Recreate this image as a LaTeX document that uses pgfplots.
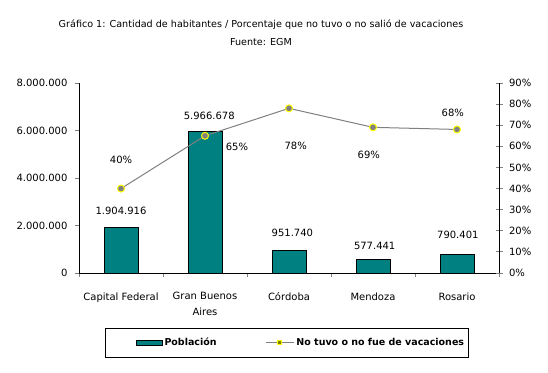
\documentclass[border=0pt]{standalone}
\usepackage{fontspec}
\setmainfont{DejaVu Sans}
\usepackage{pgfplots}
\pgfplotsset{compat=1.18}
\definecolor{barteal}{RGB}{0,128,128}
\definecolor{lgray}{RGB}{128,128,128}
\definecolor{myyellow}{RGB}{255,255,0}
\definecolor{mkolive}{RGB}{128,128,0}
\begin{document}
\begin{tikzpicture}[font=\fontsize{10}{12}\selectfont]
\useasboundingbox (0,0) rectangle (548pt,-372pt);
\node[font=\fontsize{9.6}{12}\selectfont] at (261pt,-25pt) {Gráfico 1: Cantidad de habitantes / Porcentaje que no tuvo o no salió de vacaciones};
\node[font=\fontsize{9.6}{12}\selectfont] at (261pt,-42pt) {Fuente: EGM};
\begin{axis}[
  at={(79pt,-273pt)}, anchor=south west,
  scale only axis, width=420pt, height=190pt,
  clip=false,
  xmin=-0.5, xmax=4.5, ymin=0, ymax=8000000,
  axis x line*=bottom, axis y line*=left,
  axis line style={line width=0.8pt},
  xtick={0,1,2,3,4},
  xticklabels={Capital Federal, Gran Buenos\\Aires, Córdoba, Mendoza, Rosario},
  xticklabel style={align=center, font=\fontsize{10}{16}\selectfont, yshift=-12pt},
  major x tick style={draw=none},
  minor xtick={-0.5,0.5,...,4.5},
  minor tick length=4pt,
  minor x tick style={line width=0.8pt},
  ytick={0,2000000,4000000,6000000,8000000},
  tick align=outside, major tick length=4pt,
  ytick style={line width=0.8pt},
  scaled y ticks=false,
  /pgf/number format/fixed,
  /pgf/number format/1000 sep={.},
  /pgf/number format/assume math mode=true,
  yticklabel style={xshift=-4pt},
]
\addplot[ybar, bar width=34pt, fill=barteal, draw=black, line width=0.8pt]
  coordinates {(0,1904916) (1,5966678) (2,951740) (3,577441) (4,790401)};
\node at (axis cs:0,2610000) {1.904.916};
\node at (axis cs:1.05,6610000) {5.966.678};
\node at (axis cs:2.04,1684000) {951.740};
\node at (axis cs:3.02,1137000) {577.441};
\node at (axis cs:4.01,1600000) {790.401};
\end{axis}
\begin{axis}[
  at={(79pt,-273pt)}, anchor=south west,
  scale only axis, width=420pt, height=190pt,
  clip=false,
  xmin=-0.5, xmax=4.5, ymin=0, ymax=90,
  hide x axis,
  axis y line*=right,
  axis line style={line width=0.8pt},
  ytick={0,10,...,90},
  tick align=center, major tick length=7pt,
  ytick style={line width=0.8pt},
  /pgf/number format/assume math mode=true,
  yticklabel={\pgfmathprintnumber{\tick}\%},
  yticklabel style={xshift=3pt},
  legend style={at={(0.495,-0.366)}, anchor=center, draw=black, line width=0.8pt,
    legend columns=2, inner xsep=2pt, inner ysep=8pt,
    font=\bfseries\fontsize{9.5}{11}\selectfont,
    /tikz/every even column/.append style={column sep=47pt}},
  legend cell align=left,
]
\addlegendimage{legend image code/.code={\path (0pt,0pt); \draw[fill=barteal,draw=black,line width=0.8pt] (28pt,-2.5pt) rectangle (54pt,2.5pt);}}
\addlegendentry{Población}
\addplot[color=lgray, line width=1pt, mark=*, mark size=3.5pt,
  mark options={fill=lgray, draw=myyellow, line width=1pt},
  legend image code/.code={\draw[lgray,line width=0.8pt] (0pt,0pt) -- (28pt,0pt); \draw[draw=myyellow,fill=mkolive,line width=0.8pt] (11.5pt,-2pt) rectangle (15.5pt,2pt);}]
  coordinates {(0,40) (1,65) (2,78) (3,69) (4,68)};
\addlegendentry{No tuvo o no fue de vacaciones}
\node at (axis cs:0,53.5) {40\%};
\node at (axis cs:1.38,59.7) {65\%};
\node at (axis cs:2.08,60.2) {78\%};
\node at (axis cs:2.95,55.9) {69\%};
\node at (axis cs:3.95,75.8) {68\%};
\end{axis}
\end{tikzpicture}
\end{document}
